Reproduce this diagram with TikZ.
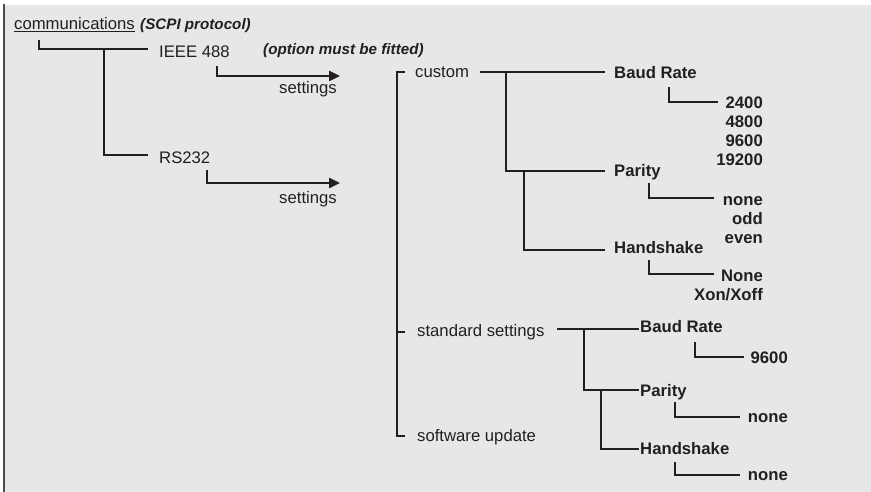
\documentclass[tikz,border=0pt]{standalone}
\usepackage{fontspec}
\setmainfont{Liberation Sans}
\usetikzlibrary{arrows.meta}
\definecolor{bg}{HTML}{E6E7E9}
\definecolor{ln}{HTML}{231F20}
\definecolor{tx}{HTML}{231F20}
\definecolor{edge}{HTML}{4A4A4A}
\begin{document}
\begin{tikzpicture}[x=1pt,y=-1pt,
 txt/.style={anchor=base west,inner sep=0pt,font=\fontsize{16.7}{20}\selectfont,text=tx},
 btxt/.style={txt,font=\fontsize{16.7}{20}\selectfont\bfseries},
 itxt/.style={txt,font=\fontsize{15.2}{18}\selectfont\bfseries\itshape},
 val/.style={btxt,anchor=base east},
 rtxt/.style={txt,anchor=base east},
 conn/.style={draw=ln,line width=2.4pt},
 arr/.style={conn,-{Triangle[length=11pt,width=10pt]}}]
\useasboundingbox[fill=white] (0,0) rectangle (871,492);
\fill[bg] (5,5) rectangle (871,492);
\draw[edge,line width=1.4pt] (4,4) -- (4,492);

% left part
\node[txt] (comm) at (14,29.5) {\underline{communications}};
\node[itxt] (scpi) at (140,29.5) {(SCPI protocol)};
\node[txt] (ieee) at (159,57.3) {IEEE 488};
\node[itxt] (opt) at (263,55) {(option must be fitted)};
\node[rtxt] (set1) at (337,93.3) {settings};
\node[txt] (rs) at (159,163.3) {RS232};
\node[rtxt] (set2) at (337,204) {settings};

\coordinate (r0) at (39,40);
\coordinate (r1) at (148,49);
\coordinate (r2) at (104,49);
\coordinate (r3) at (148,155);
\draw[conn] (r0) |- (r1);
\draw[conn] (r2) |- (r3);
\coordinate (a1s) at (217,66);
\coordinate (a1e) at (340,76);
\coordinate (a2s) at (207,170);
\coordinate (a2e) at (340,183);
\draw[arr] (a1s) |- (a1e);
\draw[arr] (a2s) |- (a2e);

% settings menu
\node[txt] (custom) at (415,77.3) {custom};
\node[txt] (std) at (417,336.7) {standard settings};
\node[txt] (sw) at (417,441.7) {software update};
\draw[conn] (405,72) -- (397,72) -- (397,436) -- (405,436);
\draw[conn] (397,332) -- (405,332);

% custom branch
\node[btxt] (baud1) at (614,78.3) {Baud Rate};
\node[btxt] (par1) at (614,176.7) {Parity};
\node[btxt] (hs1) at (614,253.3) {Handshake};
\draw[conn] (480,72) -- (605,72);
\draw[conn] (506,72) |- (605,171);
\draw[conn] (524,171) |- (605,250);

\node[val] (b2400) at (763,109) {2400};
\node[val] (b4800) at (763,128) {4800};
\node[val] (b9600) at (763,147) {9600};
\node[val] (b19200) at (763,166) {19200};
\draw[conn] (669,87) |- (718,102);

\node[val] (pnone) at (763,205.7) {none};
\node[val] (podd) at (763,225) {odd};
\node[val] (peven) at (763,243.5) {even};
\draw[conn] (649,183) |- (714,198);

\node[val] (hnone) at (763,281.7) {None};
\node[val] (hxon) at (763,300.7) {Xon/Xoff};
\draw[conn] (649,260) |- (714,274);

% standard branch
\node[btxt] (baud2) at (640,332.7) {Baud Rate};
\node[btxt] (par2) at (640,396) {Parity};
\node[btxt] (hs2) at (640,454.3) {Handshake};
\draw[conn] (557,329) -- (639,329);
\draw[conn] (584,329) |- (639,390);
\draw[conn] (601,390) |- (639,449);

\node[val] (s9600) at (788,363.3) {9600};
\draw[conn] (695,342) |- (744,357);
\node[val] (spnone) at (788,422.7) {none};
\draw[conn] (675,402) |- (740,417);
\node[val] (shnone) at (788,480) {none};
\draw[conn] (675,462) |- (740,475);
\end{tikzpicture}
\end{document}
